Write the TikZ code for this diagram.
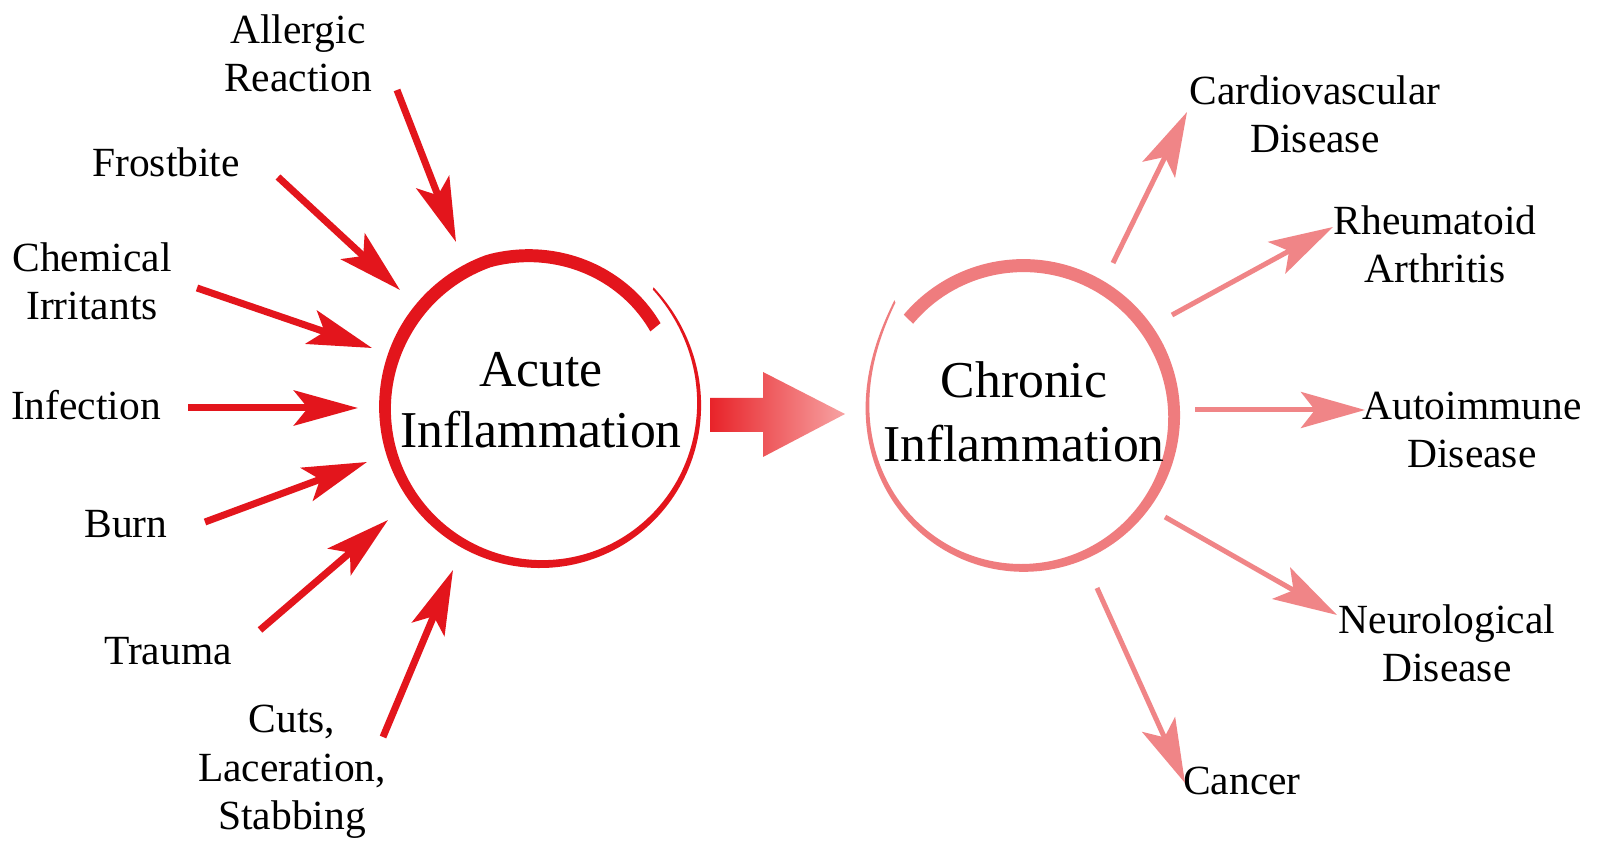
\documentclass[tikz,border=0pt]{standalone}
\usepackage{fontspec}
\setmainfont{Liberation Serif}
\usetikzlibrary{arrows.meta}
\definecolor{acutered}{HTML}{E3151C}
\definecolor{chronpink}{HTML}{EF7C7E}
\definecolor{chronarrow}{HTML}{F08587}
\definecolor{bigL}{HTML}{E82329}
\definecolor{bigR}{HTML}{F7A3A3}
\begin{document}
\begin{tikzpicture}[x=0.01cm,y=-0.01cm,
  lbl/.style={font=\fontsize{11.8}{13.9}\selectfont, align=center, anchor=base, inner sep=0pt},
  ctr/.style={font=\fontsize{14.7}{17.4}\selectfont, align=center, anchor=base, inner sep=0pt},
  aarrow/.style={draw=acutered, line width=0.07cm, -{Stealth[length=0.64cm,width=0.35cm,inset=0.14cm]}},
  carrow/.style={draw=chronarrow, line width=0.05cm, -{Stealth[length=0.64cm,width=0.36cm,inset=0.14cm]}},
  declare function={
    acth(\s)=47-372*\s;
    acr(\s)=156+8*(1-\s)^10-16*max(\s-0.8,0)/0.2;
    acw(\s)=min(2+16*\s,13);
    chth(\s)=138+362*\s;
    chr(\s)=153+19*(1-\s)^16-3*\s;
    chw(\s)=min(2+16*\s,13);
  }]
\useasboundingbox (0,0) rectangle (1623,843);
\fill[white] (0,0) rectangle (1623,843);

% acute brush circle
\fill[acutered]
  plot[domain=0:1,samples=200,variable=\t]
    ({541+(acr(\t)+acw(\t)/2)*cos(acth(\t))},{408-(acr(\t)+acw(\t)/2)*sin(acth(\t))})
  -- plot[domain=1:0,samples=200,variable=\t]
    ({541+(acr(\t)-acw(\t)/2)*cos(acth(\t))},{408-(acr(\t)-acw(\t)/2)*sin(acth(\t))})
  -- cycle;

% chronic brush circle
\fill[chronpink]
  plot[domain=0:1,samples=200,variable=\t]
    ({1023+(chr(\t)+chw(\t)/2)*cos(chth(\t))},{416-(chr(\t)+chw(\t)/2)*sin(chth(\t))})
  -- plot[domain=1:0,samples=200,variable=\t]
    ({1023+(chr(\t)-chw(\t)/2)*cos(chth(\t))},{416-(chr(\t)-chw(\t)/2)*sin(chth(\t))})
  -- cycle;

% centre texts (anchor = baseline of last line)
\node[ctr] (acute) at (541,448) {Acute\\Inflammation};
\node[ctr, font=\fontsize{14.7}{18.2}\selectfont] (chronic) at (1024,462) {Chronic\\Inflammation};

% big arrow
\coordinate (bigtip) at (845,414);
\shade[left color=bigL, right color=bigR]
  (710,398) -- (763,398) -- (763,372) -- (bigtip) -- (763,457) -- (763,432) -- (710,432) -- cycle;

% acute labels
\node[lbl] (allergic) at (298,92) {Allergic\\Reaction};
\node[lbl] (frost) at (166,177) {Frostbite};
\node[lbl] (chem) at (92,320) {Chemical\\Irritants};
\node[lbl] (infect) at (86,420) {Infection};
\node[lbl] (burn) at (126,538) {Burn};
\node[lbl] (trauma) at (168,665) {Trauma};
\node[lbl] (cuts) at (292,830) {Cuts,\\Laceration,\\Stabbing};

% acute arrows
\coordinate (a1s) at (397,90);  \coordinate (a1e) at (456,242);
\coordinate (a2s) at (278,177); \coordinate (a2e) at (400,290);
\coordinate (a3s) at (197,288); \coordinate (a3e) at (372,348);
\coordinate (a4s) at (188,408); \coordinate (a4e) at (358,408);
\coordinate (a5s) at (205,522); \coordinate (a5e) at (367,462);
\coordinate (a6s) at (260,630); \coordinate (a6e) at (388,520);
\coordinate (a7s) at (383,737); \coordinate (a7e) at (453,570);
\foreach \i in {1,...,7} {\draw[aarrow] (a\i s) -- (a\i e);}

% chronic labels
\node[lbl] (cardio) at (1315,153) {Cardiovascular\\Disease};
\node[lbl] (rheum) at (1435,283) {Rheumatoid\\Arthritis};
\node[lbl] (auto) at (1472,468) {Autoimmune\\Disease};
\node[lbl] (neuro) at (1447,682) {Neurological\\Disease};
\node[lbl] (cancer) at (1242,795) {Cancer};

% chronic arrows
\coordinate (c1s) at (1113,263); \coordinate (c1e) at (1187,112);
\coordinate (c2s) at (1172,315); \coordinate (c2e) at (1333,227);
\coordinate (c3s) at (1195,410); \coordinate (c3e) at (1365,410);
\coordinate (c4s) at (1165,517); \coordinate (c4e) at (1337,615);
\coordinate (c5s) at (1097,588); \coordinate (c5e) at (1185,783);
\foreach \i in {1,...,5} {\draw[carrow] (c\i s) -- (c\i e);}
\end{tikzpicture}
\end{document}
